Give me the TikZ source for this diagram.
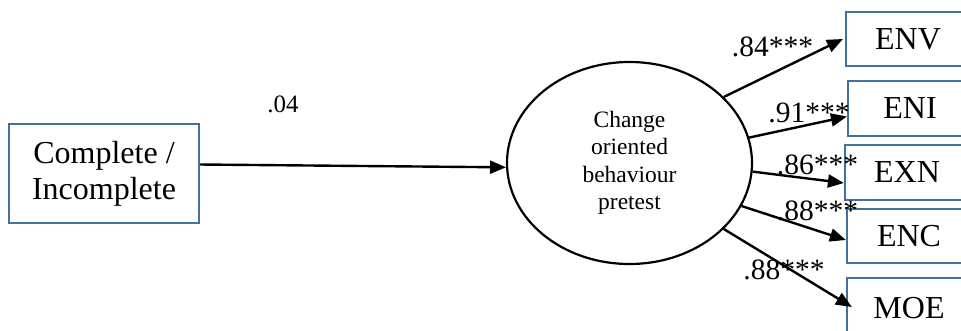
\documentclass[tikz,border=0pt]{standalone}
\usepackage{fontspec}
\setmainfont{Liberation Serif}
\usetikzlibrary{arrows.meta,shapes.geometric}
\definecolor{boxblue}{RGB}{65,113,156}
\tikzset{
  obsbox/.style={draw=boxblue, line width=2.2pt, rectangle, inner sep=0pt, font=\fontsize{32}{36}\selectfont, align=center},
  latent/.style={draw=black, line width=2.2pt, ellipse, inner sep=0pt, minimum width=245pt, minimum height=202pt, font=\fontsize{23.5}{27.5}\selectfont, align=center},
  path/.style={line width=2.4pt, -{Triangle[length=16pt,width=13pt]}},
  coef/.style={font=\fontsize{29.5}{33}\selectfont, inner sep=0pt},
}
\begin{document}
\begin{tikzpicture}[x=1pt,y=-1pt]
\clip (0,0) rectangle (961,330);
\fill[white] (0,0) rectangle (961,330);
\node[obsbox, minimum width=190pt, minimum height=99pt] (cmp) at (104,173.5) {Complete /\\Incomplete};
\node[latent] (ell) at (629.5,163) {Change\\oriented\\behaviour\\pretest};
\node[obsbox, minimum width=124pt, minimum height=54pt] (env) at (908,39) {ENV};
\node[obsbox, minimum width=124pt, minimum height=55pt] (eni) at (910,108.5) {ENI};
\node[obsbox, minimum width=124pt, minimum height=55pt] (exn) at (907,172.5) {EXN};
\node[obsbox, minimum width=124pt, minimum height=54pt] (enc) at (909,236) {ENC};
\node[obsbox, minimum width=124pt, minimum height=60pt] (moe) at (909,308) {MOE};
\draw[path] ([yshift=9pt]cmp.east) -- (ell.182);
\draw[path] (ell.35) -- ([xshift=-2pt]env.west);
\draw[path] (ell.12.6) -- ([yshift=-8pt]eni.west);
\draw[path] (ell.-4.2) -- ([yshift=-10.5pt]exn.west);
\draw[path] (ell.-21.8) -- ([yshift=-4pt]enc.west);
\draw[path] (ell.-35.2) -- ([xshift=6pt,yshift=1pt]moe.west);
\node[coef, font=\fontsize{25}{30}\selectfont] (l0) at (283,104) {.04};
\node[coef] (l1) at (772.5,47) {.84***};
\node[coef] (l2) at (809,113) {.91***};
\node[coef] (l3) at (817.5,165) {.86***};
\node[coef] (l4) at (817.5,211) {.88***};
\node[coef] (l5) at (784,270) {.88***};
\end{tikzpicture}
\end{document}
